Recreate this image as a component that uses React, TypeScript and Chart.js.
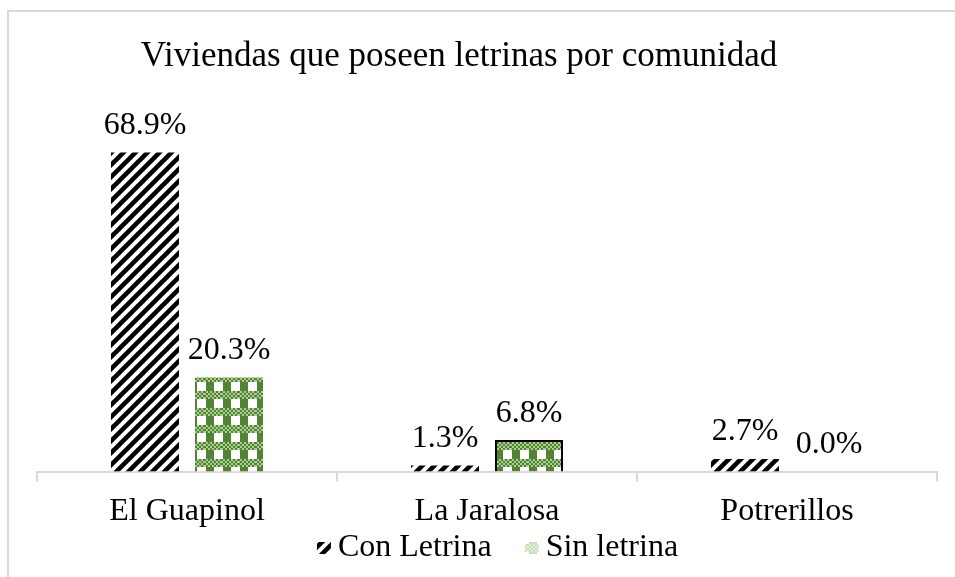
import React, { useEffect, useRef } from "react";
import { Chart, registerables } from "chart.js";

Chart.register(...registerables);

const categories = ["El Guapinol", "La Jaralosa", "Potrerillos"];
const conLetrina = [68.9, 1.3, 2.7];
const sinLetrina = [20.3, 6.8, 0.0];
const seriesNames = ["Con Letrina", "Sin letrina"];
const titleText = "Viviendas que poseen letrinas por comunidad";

const FONT = "'Liberation Serif', 'Times New Roman', serif";

function stripePattern(): CanvasPattern | string {
  const s = 12;
  const c = document.createElement("canvas");
  c.width = s;
  c.height = s;
  const g = c.getContext("2d");
  if (!g) return "#000";
  g.fillStyle = "#fff";
  g.fillRect(0, 0, s, s);
  g.strokeStyle = "#000";
  g.lineWidth = 4.5;
  for (const o of [-s, 0, s]) {
    g.beginPath();
    g.moveTo(o - 2, s + 2);
    g.lineTo(o + s + 2, -2);
    g.stroke();
  }
  return g.createPattern(c, "repeat") || "#000";
}

function checkPattern(dark: string, light: string): CanvasPattern | string {
  const s = 17;
  const c = document.createElement("canvas");
  c.width = s;
  c.height = s;
  const g = c.getContext("2d");
  if (!g) return dark;
  g.fillStyle = "#fff";
  g.fillRect(0, 0, s, s);
  for (let y = 0; y < 8; y += 2) {
    for (let x = 0; x < s; x += 2) {
      const odd = ((x + y) / 2) % 2 === 0;
      g.fillStyle = odd ? dark : light;
      g.fillRect(x, y, 2, 2);
    }
  }
  g.fillStyle = dark;
  g.fillRect(2, 8, 8, 9);
  return g.createPattern(c, "repeat") || dark;
}

const labelsPlugin = {
  id: "valueLabels",
  afterDatasetsDraw(chart: any) {
    const ctx = chart.ctx;
    ctx.save();
    ctx.font = `32px ${FONT}`;
    ctx.fillStyle = "#000";
    ctx.textAlign = "center";
    ctx.textBaseline = "middle";
    chart.data.datasets.forEach((ds: any, i: number) => {
      const meta = chart.getDatasetMeta(i);
      meta.data.forEach((bar: any, j: number) => {
        const v = ds.data[j] as number;
        ctx.fillText(v.toFixed(1) + "%", bar.x, bar.y - 27);
      });
    });
    ctx.restore();
  },
};

const titlePlugin = {
  id: "customTitle",
  afterDraw(chart: any) {
    const ctx = chart.ctx;
    ctx.save();
    ctx.font = `35px ${FONT}`;
    ctx.fillStyle = "#000";
    ctx.textAlign = "center";
    ctx.textBaseline = "middle";
    ctx.fillText(titleText, 459, 57);
    ctx.restore();
  },
};

function makeLegendPlugin(icons: (CanvasPattern | string)[]) {
  return {
    id: "customLegend",
    afterDraw(chart: any) {
      const ctx = chart.ctx;
      ctx.save();
      ctx.font = `32px ${FONT}`;
      ctx.textBaseline = "middle";
      ctx.textAlign = "left";
      const boxW = 14;
      const boxH = 12;
      const gapBoxText = 7;
      const gapItems = 33;
      const widths = seriesNames.map((n) => boxW + gapBoxText + ctx.measureText(n).width);
      const total = widths.reduce((a, b) => a + b, 0) + gapItems;
      let x = 497.5 - total / 2;
      const y = 548;
      seriesNames.forEach((n, i) => {
        ctx.fillStyle = icons[i] as any;
        ctx.fillRect(x, y - boxH / 2, boxW, boxH);
        ctx.fillStyle = "#000";
        ctx.fillText(n, x + boxW + gapBoxText, y);
        x += widths[i] + gapItems;
      });
      ctx.restore();
    },
  };
}

export default function App() {
  const ref = useRef<HTMLCanvasElement>(null);
  useEffect(() => {
    if (!ref.current) return;
    const stripes = stripePattern();
    const checks = checkPattern("#538135", "#a9d08e");
    const legendChecks = checkPattern("#c5e0b4", "#e2efda");
    const chart = new Chart(ref.current, {
      type: "bar",
      data: {
        labels: categories,
        datasets: [
          {
            label: seriesNames[0],
            data: conLetrina,
            backgroundColor: stripes as any,
            borderWidth: 0,
            categoryPercentage: 0.56,
            barPercentage: 0.81,
          },
          {
            label: seriesNames[1],
            data: sinLetrina,
            backgroundColor: checks as any,
            borderColor: "#000",
            borderWidth: [0, 2, 0],
            categoryPercentage: 0.56,
            barPercentage: 0.81,
          },
        ],
      },
      options: {
        animation: false,
        responsive: false,
        maintainAspectRatio: false,
        layout: { padding: { left: 37, right: 18, top: 101, bottom: 35 } },
        plugins: {
          title: { display: false },
          tooltip: { enabled: false },
          legend: { display: false },
        },
        scales: {
          x: {
            grid: {
              display: true,
              drawOnChartArea: false,
              drawTicks: true,
              tickLength: 10,
              color: "#d9d9d9",
              lineWidth: 2,
              offset: true,
            },
            border: { display: true, color: "#d9d9d9", width: 2 },
            ticks: {
              font: { family: FONT, size: 32 },
              color: "#000",
              padding: 11,
            },
          },
          y: {
            display: false,
            min: 0,
            max: 80,
          },
        },
      },
      plugins: [labelsPlugin, titlePlugin, makeLegendPlugin([stripes, legendChecks])],
    });
    return () => chart.destroy();
  }, []);

  return (
    <div style={{ position: "fixed", left: 0, top: 0, width: 955, height: 577, background: "#fff" }}>
      <div
        style={{
          position: "absolute",
          left: 7,
          top: 10,
          width: 960,
          height: 600,
          borderLeft: "2px solid #d9d9d9",
          borderTop: "2px solid #d9d9d9",
        }}
      />
      <canvas ref={ref} width={955} height={577} style={{ position: "absolute", left: 0, top: 0 }} />
    </div>
  );
}
